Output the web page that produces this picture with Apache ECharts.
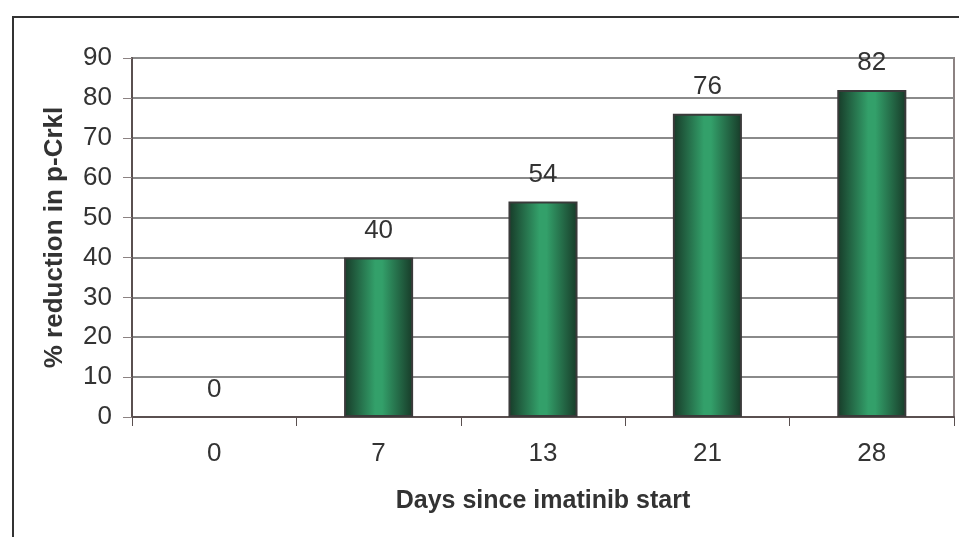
<!DOCTYPE html>
<html>
<head>
<meta charset="utf-8">
<script src="https://cdn.jsdelivr.net/npm/echarts@6/dist/echarts.min.js"></script>
<style>
  html, body { margin: 0; padding: 0; background: #fff; }
  #chart { width: 959px; height: 537px; }
</style>
</head>
<body>
<div id="chart"></div>
<script>
// Days since imatinib start and the % reduction in p-Crkl at each day
const days = ['0', '7', '13', '21', '28'];
const reduction = [0, 40, 54, 76, 82];
const yTicks = [0, 10, 20, 30, 40, 50, 60, 70, 80, 90];

const chart = echarts.init(document.getElementById('chart'), null, { renderer: 'canvas' });

const barFill = new echarts.graphic.LinearGradient(0, 0, 1, 0, [
  { offset: 0, color: '#173a28' },
  { offset: 0.45, color: '#33a06a' },
  { offset: 0.55, color: '#33a06a' },
  { offset: 1, color: '#173a28' }
]);

const font = '"Liberation Sans", Arial, sans-serif';

// a zero-height bar draws no outline
const barData = reduction.map(v => v === 0
  ? { value: v, itemStyle: { borderWidth: 0 } }
  : v);

chart.setOption({
  animation: false,
  backgroundColor: '#fff',
  graphic: [{
    type: 'rect',
    shape: { x: 13, y: 17, width: 1000, height: 600 },
    style: { fill: 'none', stroke: '#333', lineWidth: 2 },
    silent: true,
    z: 100
  }],
  grid: {
    left: 132, top: 58, right: 5, bottom: 120,
    show: true, borderColor: '#8c8282', borderWidth: 2, backgroundColor: 'transparent'
  },
  xAxis: {
    type: 'category',
    data: days,
    name: 'Days since imatinib start',
    nameLocation: 'middle',
    nameGap: 72,
    nameTextStyle: { fontFamily: font, fontSize: 25, fontWeight: 'bold', color: '#333' },
    axisLine: { lineStyle: { color: '#5a5050', width: 2 } },
    axisTick: { show: true, alignWithLabel: false, length: 9, lineStyle: { color: '#5a5050', width: 1 } },
    axisLabel: { fontFamily: font, fontSize: 26, color: '#333', margin: 24 }
  },
  yAxis: {
    type: 'value',
    min: yTicks[0],
    max: yTicks[yTicks.length - 1],
    interval: 10,
    name: '% reduction in p-Crkl',
    nameLocation: 'middle',
    nameGap: 64,
    nameTextStyle: { fontFamily: font, fontSize: 26, fontWeight: 'bold', color: '#333' },
    axisLine: { show: true, lineStyle: { color: '#5a5050', width: 2 } },
    axisTick: { show: true, length: 9, lineStyle: { color: '#8c8282', width: 1 } },
    axisLabel: { fontFamily: font, fontSize: 26, color: '#333', margin: 20 },
    splitLine: { lineStyle: { color: '#8a8a8a', width: 2 } }
  },
  series: [{
    type: 'bar',
    data: barData,
    barWidth: '42%',
    itemStyle: { color: barFill, borderColor: '#3a3a3a', borderWidth: 2 },
    label: {
      show: true,
      position: 'top',
      distance: 14,
      fontFamily: font,
      fontSize: 26,
      color: '#333'
    }
  }]
});
</script>
</body>
</html>
